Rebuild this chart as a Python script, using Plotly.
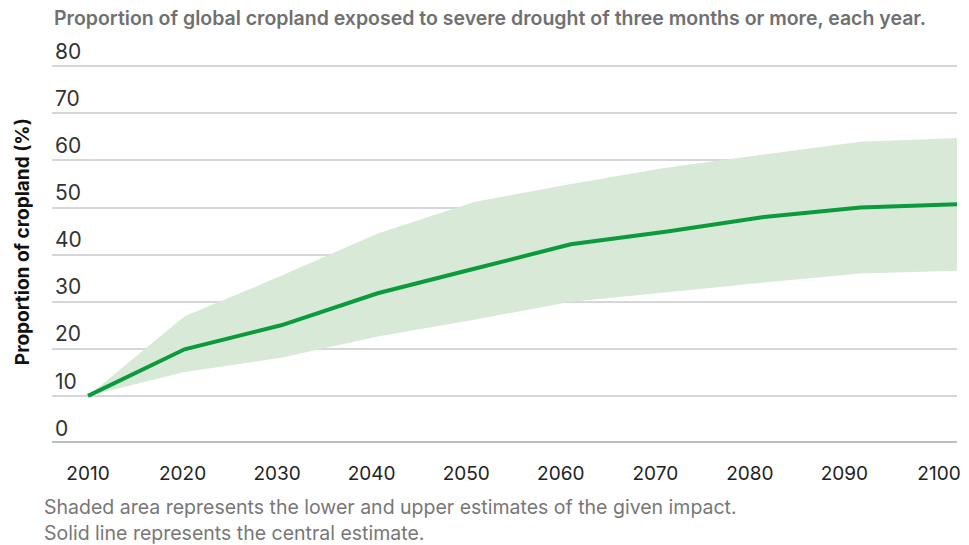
import plotly.graph_objects as go

years = [2010, 2020, 2030, 2040, 2050, 2060, 2070, 2080, 2090, 2100]
central = [10, 19.9, 25.0, 31.8, 37.0, 42.2, 44.9, 48.0, 50.0, 50.7]
upper = [10, 26.9, 35.5, 44.5, 51.2, 55.0, 58.5, 61.3, 64.0, 64.8]
lower = [10, 15.1, 18.1, 22.6, 26.2, 30.0, 32.0, 34.1, 36.0, 36.6]
y_ticks = [0, 10, 20, 30, 40, 50, 60, 70, 80]
x_tick_labels = [str(y) for y in years]

title_text = "Proportion of global cropland exposed to severe drought of three months or more, each year."
y_title = "Proportion of cropland (%)"
note1 = "Shaded area represents the lower and upper estimates of the given impact."
note2 = "Solid line represents the central estimate."

FONT = "Inter, Roboto, Arial, sans-serif"

fig = go.Figure()
fig.add_trace(go.Scatter(x=years, y=lower, mode="lines", line=dict(width=0),
                         hoverinfo="skip", showlegend=False))
fig.add_trace(go.Scatter(x=years, y=upper, mode="lines", line=dict(width=0),
                         fill="tonexty", fillcolor="#d9e9d8",
                         hoverinfo="skip", showlegend=False))
fig.add_trace(go.Scatter(x=years, y=central, mode="lines",
                         line=dict(color="#0b9a3c", width=4),
                         cliponaxis=False, showlegend=False))

W, H = 969, 545
Y_TOP = 87.5
px_per_unit = (443 - 66) / 80.0
L, R, B = 52, 12, 102
T = 443 - Y_TOP * px_per_unit
plot_w = W - L - R
plot_h = H - T - B
px_per_year_data = (957 - 88) / 90.0
x0 = 2010 - (88 - L) / px_per_year_data
x1 = 2100 + (W - R - 957) / px_per_year_data
px_per_year_lab = (939 - 88) / 90.0
lx0 = 2010 - (88 - L) / px_per_year_lab
lx1 = 2100 + (W - R - 939) / px_per_year_lab


def py(pix):
    return (H - B - pix) / plot_h


def px(pix):
    return (pix - L) / plot_w


fig.update_layout(
    width=W, height=H,
    margin=dict(l=L, r=R, t=T, b=B, autoexpand=False),
    paper_bgcolor="white", plot_bgcolor="white",
    font=dict(family=FONT, color="#222222"),
    hovermode=False,
    xaxis=dict(range=[x0, x1], showgrid=False, zeroline=False,
               showticklabels=False, ticks="", automargin=False),
    xaxis2=dict(range=[lx0, lx1], overlaying="x", anchor="y", side="bottom",
                tickvals=years, ticktext=x_tick_labels, showgrid=False,
                zeroline=False, ticks="outside", ticklen=13, automargin=False,
                tickcolor="rgba(0,0,0,0)",
                tickfont=dict(size=19, color="#222222", family=FONT)),
    yaxis=dict(range=[0, Y_TOP], tickvals=y_ticks, showgrid=True,
               gridcolor="#d6d6da", gridwidth=2, zeroline=False,
               ticklabelposition="inside top", ticks="", automargin=False,
               tickfont=dict(size=21, color="#333333", family=FONT)),
    shapes=[dict(type="line", xref="paper", yref="y", x0=0, x1=1, y0=0, y1=0,
                 line=dict(color="#bdbdc2", width=4), layer="below")],
    annotations=[
        dict(text=title_text, xref="paper", yref="paper",
             x=px(52), y=py(18),
             xanchor="left", yanchor="middle", showarrow=False,
             font=dict(size=19.5, color="#707070", family=FONT, weight=600)),
        dict(text=y_title, xref="paper", yref="paper",
             x=px(22), y=py(242),
             xanchor="center", yanchor="middle", textangle=-90, showarrow=False,
             font=dict(size=19, color="#111111", family=FONT, weight=700)),
        dict(text=note1, xref="paper", yref="paper",
             x=px(42), y=py(507),
             xanchor="left", yanchor="middle", showarrow=False,
             font=dict(size=19.5, color="#777777", family=FONT)),
        dict(text=note2, xref="paper", yref="paper",
             x=px(42), y=py(533),
             xanchor="left", yanchor="middle", showarrow=False,
             font=dict(size=19.5, color="#777777", family=FONT)),
    ],
)

fig.add_trace(go.Scatter(x=[years[0]], y=[central[0]], xaxis="x2", mode="markers",
                         marker=dict(opacity=0), hoverinfo="skip", showlegend=False))

fig.write_html("out.html", config={"displayModeBar": False},
               post_script="document.body.style.margin='0';document.body.style.padding='0';")
